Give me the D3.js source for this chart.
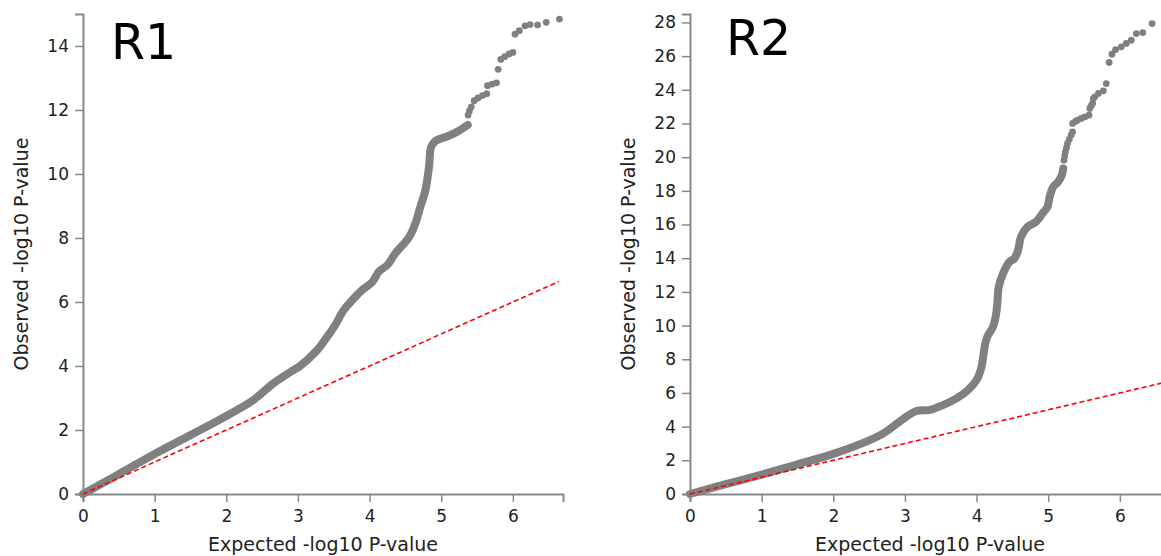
<!DOCTYPE html>
<html>
<head>
<meta charset="utf-8">
<script src="https://cdn.jsdelivr.net/npm/d3@7"></script>
<style>
  html, body { margin: 0; padding: 0; background: #fff; }
  svg { display: block; }
  text { font-family: "DejaVu Sans", sans-serif; }
</style>
</head>
<body>
<svg id="chart" width="1161" height="556"></svg>
<script>
// ---- data ----
const panelNames = ["R1", "R2"];
const xTicks = [0, 1, 2, 3, 4, 5, 6];
const r1YTicks = [0, 2, 4, 6, 8, 10, 12, 14];
const r2YTicks = [0, 2, 4, 6, 8, 10, 12, 14, 16, 18, 20, 22, 24, 26, 28];
const expectedMax = 6.64;   // end of the null (y = x) line

// dense part of the QQ band: [expected, observed]
const r1Dense = [
  [0, 0], [0.5, 0.62], [1.0, 1.25], [1.5, 1.84], [2.0, 2.44], [2.38, 2.94],
  [2.66, 3.46], [2.9, 3.82], [3.03, 4.0], [3.27, 4.5], [3.41, 4.92], [3.52, 5.28],
  [3.64, 5.75], [3.76, 6.06], [3.9, 6.38], [4.04, 6.63], [4.13, 6.95], [4.25, 7.16],
  [4.36, 7.52], [4.55, 8.02], [4.64, 8.46], [4.71, 8.98], [4.78, 9.5], [4.83, 10.23],
  [4.86, 10.85], [4.92, 11.03], [5.09, 11.18], [5.23, 11.33], [5.37, 11.53]
];
// sparse top tail: individual points
const r1Tail = [
  [5.375, 11.84], [5.394, 11.97], [5.42, 12.1], [5.46, 12.29], [5.515, 12.375],
  [5.576, 12.45], [5.636, 12.51], [5.646, 12.76], [5.711, 12.81], [5.772, 12.85],
  [5.795, 13.27], [5.832, 13.58], [5.888, 13.67], [5.948, 13.75], [6.0, 13.8],
  [6.03, 14.37], [6.09, 14.48], [6.17, 14.63], [6.24, 14.67], [6.345, 14.66],
  [6.466, 14.74], [6.65, 14.84]
];

const r2Dense = [
  [0, 0], [0.5, 0.58], [1.0, 1.15], [1.5, 1.76], [2.0, 2.38], [2.51, 3.2],
  [2.7, 3.6], [2.88, 4.15], [3.02, 4.59], [3.16, 4.93], [3.35, 4.99], [3.53, 5.28],
  [3.72, 5.68], [3.88, 6.17], [4.0, 6.77], [4.07, 7.56], [4.1, 8.4], [4.12, 8.9],
  [4.15, 9.34], [4.23, 9.93], [4.27, 10.6], [4.29, 11.3], [4.31, 12.3],
  [4.37, 13.1], [4.46, 13.79], [4.53, 13.99], [4.58, 14.48], [4.62, 15.27],
  [4.71, 15.86], [4.83, 16.16], [4.92, 16.66], [4.99, 17.05], [5.02, 17.64],
  [5.07, 18.24], [5.14, 18.54], [5.19, 18.93], [5.21, 19.33]
];
const r2Tail = [
  [5.22, 19.82], [5.23, 20.07], [5.24, 20.32], [5.255, 20.56], [5.27, 20.81],
  [5.295, 21.06], [5.32, 21.31], [5.34, 21.5],
  [5.34, 22.0], [5.38, 22.12], [5.41, 22.2], [5.46, 22.3], [5.51, 22.39], [5.57, 22.49],
  [5.58, 22.89], [5.6, 23.05], [5.62, 23.19], [5.63, 23.48], [5.65, 23.58], [5.7, 23.78],
  [5.77, 23.94], [5.81, 24.37], [5.85, 25.62], [5.89, 26.11], [5.94, 26.39],
  [6.02, 26.55], [6.09, 26.75], [6.16, 26.94], [6.23, 27.34], [6.32, 27.4], [6.45, 27.93]
];

// ---- layout ----
const svg = d3.select("#chart");
const panels = [
  { name: panelNames[0], dense: r1Dense, tail: r1Tail, yTicks: r1YTicks, yMax: 15,
    x0: 83, x1: 563, labelX: 111, labelY: 59, yTitleX: 21 },
  { name: panelNames[1], dense: r2Dense, tail: r2Tail, yTicks: r2YTicks, yMax: 28.5,
    x0: 690, x1: 1170, labelX: 726, labelY: 55, yTitleX: 628 }
];
const yTop = 14, yBottom = 494;
const gray = "#808080";

panels.forEach(p => {
  const x = d3.scaleLinear().domain([0, 6.7]).range([p.x0, p.x1]);
  const y = d3.scaleLinear().domain([0, p.yMax]).range([yBottom, yTop]);
  const g = svg.append("g");

  // axes
  const xAxis = g.append("g").attr("transform", `translate(0,${yBottom})`)
    .call(d3.axisBottom(x).tickValues(xTicks).tickFormat(d3.format("d")).tickSize(8).tickPadding(8));
  const yAxis = g.append("g").attr("transform", `translate(${p.x0},0)`)
    .call(d3.axisLeft(y).tickValues(p.yTicks).tickFormat(d3.format("d")).tickSize(8).tickPadding(6));
  [xAxis, yAxis].forEach(a => {
    a.select(".domain").attr("stroke", "#888").attr("stroke-width", 2);
    a.selectAll(".tick line").attr("stroke", "#888").attr("stroke-width", 1.5);
    a.selectAll(".tick text").attr("fill", "#222").style("font-size", "17px")
      .style("font-family", "DejaVu Sans, sans-serif");
  });

  // dense band
  const line = d3.line().x(d => x(d[0])).y(d => y(d[1])).curve(d3.curveCatmullRom);
  g.append("path").datum(p.dense).attr("d", line)
    .attr("fill", "none").attr("stroke", gray).attr("stroke-width", 8)
    .attr("stroke-linecap", "round").attr("stroke-linejoin", "round");

  // sparse tail points
  g.selectAll("circle.tail").data(p.tail).enter().append("circle")
    .attr("class", "tail")
    .attr("cx", d => x(d[0])).attr("cy", d => y(d[1])).attr("r", 3.4)
    .attr("fill", gray);

  // null line
  g.append("line")
    .attr("x1", x(0)).attr("y1", y(0)).attr("x2", x(expectedMax)).attr("y2", y(expectedMax))
    .attr("stroke", "#ff0000").attr("stroke-width", 1.6).attr("stroke-dasharray", "5,3");

  // titles
  g.append("text").attr("x", (p.x0 + p.x0 + 480) / 2).attr("y", 551)
    .attr("text-anchor", "middle").attr("fill", "#222").style("font-size", "19px")
    .text("Expected -log10 P-value");
  g.append("text")
    .attr("transform", `translate(${p.yTitleX},${(yTop + yBottom) / 2}) rotate(-90)`)
    .attr("text-anchor", "middle").attr("dy", "0.35em").attr("fill", "#222").style("font-size", "19px")
    .text("Observed -log10 P-value");
  g.append("text").attr("x", p.labelX).attr("y", p.labelY)
    .attr("fill", "#000").style("font-size", "49px").text(p.name);
});
</script>
</body>
</html>
